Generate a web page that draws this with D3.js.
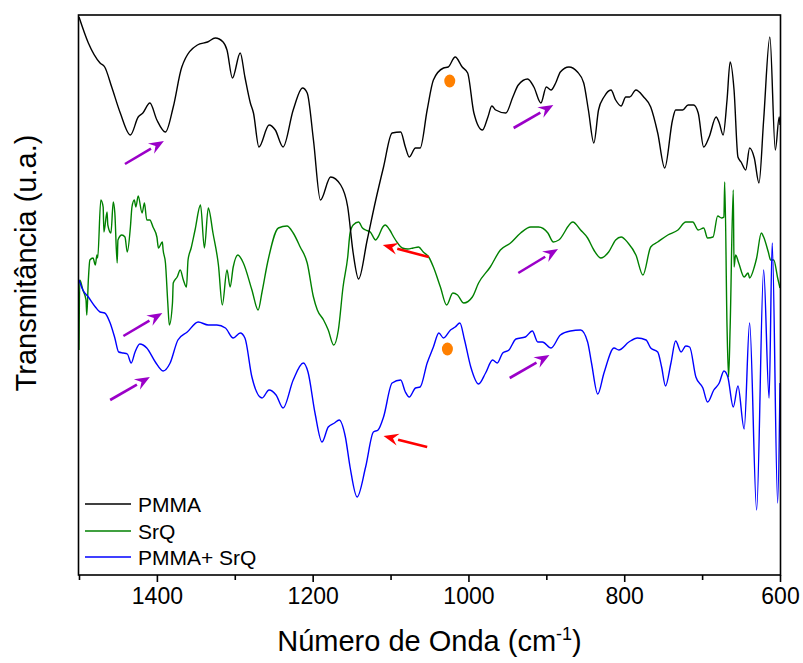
<!DOCTYPE html>
<html>
<head>
<meta charset="utf-8">
<script src="https://cdn.jsdelivr.net/npm/d3@7"></script>
<style>
  body { margin: 0; background: #fff; }
  svg { font-family: "Liberation Sans", Arial, sans-serif; }
</style>
</head>
<body>
<svg width="803" height="663"></svg>
<script>
// PMMA (black)
const pmmaWn = [1500,1488,1473,1467,1458,1447,1434,1424,1418,1409,1400,1389,1379,1368,1348,1335,1325,1315,1310,1303,1293,1287,1280,1276,1269,1256,1248,1238,1225,1213,1207,1199,1190,1177,1164,1155,1148,1141,1130,1119,1109,1098,1087,1081,1076,1068,1062,1053,1045,1032,1026,1017,1008,1001,993,982,975,970,965,952,943,936,924,916,907,900,894,888,882,871,860,852,846,839,833,826,817,811,804,798,793,785,775,766,757,748,738,734,725,718,711,705,698,691,682,678,673,668,664,659,654,650,644,639,633,627,621,613,606,601,600];
const pmmaT = [55.8,53.2,51.2,50.8,48.8,46.2,44.0,45.8,46.2,47.2,45.5,44.3,46.8,50.8,53.0,53.3,53.7,53.3,52.5,49.7,52.2,49.8,47.2,46.2,42.8,45.0,44.5,42.8,46.5,48.7,48.2,43.5,37.5,39.8,39.0,36.8,32.2,29.6,33.5,37.5,40.8,44.2,44.3,42.8,41.8,42.7,42.7,46.5,49.5,50.7,50.8,51.8,50.8,50.2,46.2,44.5,45.8,46.9,46.5,46.2,47.8,49.0,49.6,48.8,47.2,48.8,48.5,49.2,50.3,50.8,50.3,49.2,46.5,43.2,46.5,47.8,48.5,47.5,46.9,47.8,47.8,48.5,47.8,46.8,44.2,40.7,45.5,46.5,46.5,47.0,47.0,46.2,42.8,43.8,45.8,45.2,44.0,47.5,51.3,48.5,41.8,41.3,40.5,42.7,41.7,39.2,45.5,53.8,42.5,45.8,45.0];

// SrQ (green)
const srqWn = [1500,1499,1495,1491,1490,1488,1486,1482,1479,1477,1476,1472,1469,1468,1464,1463,1459,1456,1454,1451,1450,1445,1441,1438,1434,1432,1429,1427,1424,1419,1416,1413,1409,1405,1400,1398,1393,1392,1389,1386,1384,1380,1379,1374,1370,1366,1362,1360,1356,1351,1344,1339,1334,1328,1321,1316,1310,1306,1302,1296,1289,1278,1270,1265,1258,1244,1233,1225,1216,1207,1199,1194,1186,1180,1173,1167,1161,1155,1152,1148,1141,1136,1132,1126,1119,1116,1110,1107,1101,1096,1091,1085,1078,1071,1064,1058,1051,1045,1036,1028,1020,1014,1006,995,987,972,959,946,933,920,910,898,891,884,866,856,847,839,830,820,811,804,795,785,776,766,757,744,731,721,712,705,698,693,686,680,675,672,671,668,666,664,660,659,657,653,646,641,639,633,630,624,621,615,612,608,603,600];
const srqT = [22.5,29.5,28.5,27.5,26.0,29.5,31.5,31.7,31.0,32.0,31.7,37.5,36.8,34.3,36.3,35.0,34.2,37.3,36.2,31.2,33.5,34.0,33.8,32.3,34.8,36.8,37.5,36.8,37.9,36.2,37.2,35.5,35.5,34.8,33.8,32.7,33.3,32.5,31.2,27.2,25.0,27.2,29.2,29.8,30.5,29.5,28.8,31.5,32.7,34.5,37.0,32.7,36.7,34.2,31.0,27.0,30.5,28.8,30.8,32.0,31.2,28.5,26.5,28.3,31.2,34.7,34.9,34.2,32.8,31.2,27.8,26.5,25.5,24.5,23.0,24.5,28.8,31.8,34.2,35.0,35.3,34.7,34.5,34.3,33.5,33.8,34.8,35.0,34.5,33.8,33.2,32.7,32.6,32.7,32.8,32.3,31.8,30.8,28.8,27.0,28.2,28.0,27.2,27.8,29.2,30.8,32.5,33.2,34.2,34.8,34.8,34.2,33.3,33.5,35.3,34.5,33.7,32.5,31.7,32.3,33.5,33.8,33.2,32.0,30.0,32.8,33.3,34.0,34.5,35.3,35.3,34.5,34.7,33.7,33.8,35.9,35.7,35.8,39.3,24.8,19.8,24.8,38.5,30.8,32.0,31.2,29.8,30.2,29.7,30.8,31.7,34.2,33.8,32.3,31.5,31.5,29.7,28.7];

// PMMA+ SrQ (blue)
const blendWn = [1500,1495,1488,1479,1473,1467,1460,1454,1449,1443,1438,1433,1428,1422,1413,1402,1392,1383,1373,1361,1347,1334,1323,1312,1302,1293,1287,1278,1265,1256,1247,1238,1225,1212,1206,1197,1188,1180,1172,1166,1158,1152,1143,1132,1122,1116,1109,1098,1087,1081,1076,1068,1062,1053,1045,1038,1032,1023,1017,1011,1005,997,987,978,969,963,956,948,939,927,918,911,905,894,882,869,856,847,842,834,826,813,807,794,783,772,766,757,752,747,740,734,727,721,716,708,699,693,685,678,672,667,660,654,646,639,630,621,614,610,603,600];
const blendT = [29.5,28.5,27.8,26.8,26.3,26.2,25.2,23.7,22.3,22.2,22.1,21.2,22.3,23.1,22.7,21.3,20.4,21.2,23.5,24.3,25.3,25.0,25.0,24.7,23.7,24.2,23.7,19.8,17.7,18.5,18.0,16.7,19.5,21.2,20.3,16.2,13.3,14.8,15.2,15.5,13.8,10.8,7.8,10.8,14.3,14.5,15.8,19.2,19.5,18.3,17.8,18.7,18.8,21.2,22.8,24.2,23.7,24.5,24.8,25.2,23.5,20.8,19.1,20.2,21.5,21.2,22.2,22.5,23.6,23.8,24.4,23.3,23.3,22.7,24.0,24.4,24.5,23.3,21.2,18.1,20.2,22.7,22.5,23.3,23.7,23.5,22.7,22.3,20.8,18.9,21.2,23.4,22.3,22.9,22.8,19.8,18.7,17.3,18.5,19.2,20.4,19.8,16.8,18.9,14.6,25.2,6.5,30.5,17.7,33.2,7.2,19.2];

const seriesNames = ["PMMA", "SrQ", "PMMA+ SrQ"];
const seriesColors = ["#000000", "#008000", "#0000ff"];

const xTicksMajor = [1400, 1200, 1000, 800, 600];
const xTicksMinor = [1500, 1300, 1100, 900, 700];

// arrows: [tailWn, tailT, headWn, headT]
const purpleArrows = [[1441,41.1,1391,43.4],[1443,23.9,1393,26.2],[1460,17.5,1409,19.8],[942,44.7,891,47.0],[936,30.2,885,32.6],[947,19.7,896,22.0]];
const redArrows = [[1051,31.8,1110,33.0],[1053,12.8,1109,13.9]];
const orangeDots = [[1024,49.4],[1027,22.6]];

const svg = d3.select("svg");

const area = {
    left: 79,
    right: 780,
    top: 15,
    bottom: 575
};

const scX = d3.scaleLinear()
              .domain([1500, 600])
              .range([area.left, area.right]);

const scY = d3.scaleLinear()
              .domain([0, 56])
              .range([area.bottom, area.top]);

const drawAxes = () => {
    svg.append("rect")
       .attr("x", area.left - 0.5)
       .attr("y", area.top)
       .attr("width", area.right - area.left + 1)
       .attr("height", area.bottom - area.top)
       .attr("fill", "none")
       .attr("stroke", "#000")
       .attr("stroke-width", 1.6);

    const axisMajor = d3.axisBottom(scX)
                        .tickValues(xTicksMajor)
                        .tickSize(7)
                        .tickPadding(6)
                        .tickFormat(d3.format("d"));

    const gx = svg.append("g")
                  .attr("transform", `translate(0, ${area.bottom})`)
                  .call(axisMajor);
    gx.select(".domain").remove();
    gx.selectAll("line").attr("stroke-width", 1.6);
    gx.selectAll("text")
      .attr("font-size", 23)
      .attr("font-family", "Liberation Sans, Arial, sans-serif")
      .attr("fill", "#000");

    const axisMinor = d3.axisBottom(scX)
                        .tickValues(xTicksMinor)
                        .tickSize(5)
                        .tickFormat("");

    const gm = svg.append("g")
                  .attr("transform", `translate(0, ${area.bottom})`)
                  .call(axisMinor);
    gm.select(".domain").remove();
    gm.selectAll("line").attr("stroke-width", 1.6);

    const xTitle = svg.append("text")
                      .attr("x", (area.left + area.right) / 2)
                      .attr("y", 651)
                      .attr("text-anchor", "middle")
                      .attr("font-size", 29);
    xTitle.append("tspan").text("Número de Onda (cm");
    xTitle.append("tspan").attr("font-size", 18).attr("dy", -11).text("-1");
    xTitle.append("tspan").attr("dy", 11).text(")");

    svg.append("text")
       .attr("transform", `translate(36, 263) rotate(-90)`)
       .attr("text-anchor", "middle")
       .attr("font-size", 29)
       .text("Transmitância (u.a.)");
}

const drawSeries = () => {
    const allSeries = [
        {wn: pmmaWn, t: pmmaT},
        {wn: srqWn, t: srqT},
        {wn: blendWn, t: blendT}
    ];

    const line = d3.line()
                   .x(d => scX(d[0]))
                   .y(d => scY(d[1]))
                   .curve(d3.curveMonotoneX);

    // draw green first, then black, then blue on top
    [1, 0, 2].forEach(i => {
        const pts = allSeries[i].wn.map((w, j) => [w, allSeries[i].t[j]]);
        svg.append("path")
           .datum(pts)
           .attr("d", line)
           .attr("fill", "none")
           .attr("stroke", seriesColors[i])
           .attr("stroke-width", 1.4)
           .attr("stroke-linejoin", "round");
    });
}

const drawArrow = (a, color) => {
    const x1 = scX(a[0]), y1 = scY(a[1]);
    const x2 = scX(a[2]), y2 = scY(a[3]);
    const ang = Math.atan2(y2 - y1, x2 - x1);
    const headLen = 15, headW = 6;
    const bx = x2 - headLen * Math.cos(ang), by = y2 - headLen * Math.sin(ang);

    svg.append("line")
       .attr("x1", x1).attr("y1", y1)
       .attr("x2", bx).attr("y2", by)
       .attr("stroke", color)
       .attr("stroke-width", 2.6);

    const px = -Math.sin(ang) * headW, py = Math.cos(ang) * headW;
    svg.append("polygon")
       .attr("points", `${x2},${y2} ${bx + px},${by + py} ${bx + 0.35 * headLen * Math.cos(ang)},${by + 0.35 * headLen * Math.sin(ang)} ${bx - px},${by - py}`)
       .attr("fill", color);
}

const drawAnnotations = () => {
    purpleArrows.forEach(a => drawArrow(a, "#9b00c8"));
    redArrows.forEach(a => drawArrow(a, "#ff0000"));

    svg.selectAll(".dot")
       .data(orangeDots)
       .enter()
       .append("ellipse")
       .attr("cx", d => scX(d[0]))
       .attr("cy", d => scY(d[1]))
       .attr("rx", 5.5)
       .attr("ry", 6.5)
       .attr("fill", "#ff8000");
}

const drawLegend = () => {
    const rows = [504, 531, 557];
    seriesNames.forEach((name, i) => {
        svg.append("line")
           .attr("x1", 85).attr("x2", 131)
           .attr("y1", rows[i]).attr("y2", rows[i])
           .attr("stroke", seriesColors[i])
           .attr("stroke-width", 1.6);
        svg.append("text")
           .attr("x", 138)
           .attr("y", rows[i] + 8)
           .attr("font-size", 21)
           .text(name);
    });
}

drawSeries();
drawAnnotations();
drawAxes();
drawLegend();
</script>
</body>
</html>
